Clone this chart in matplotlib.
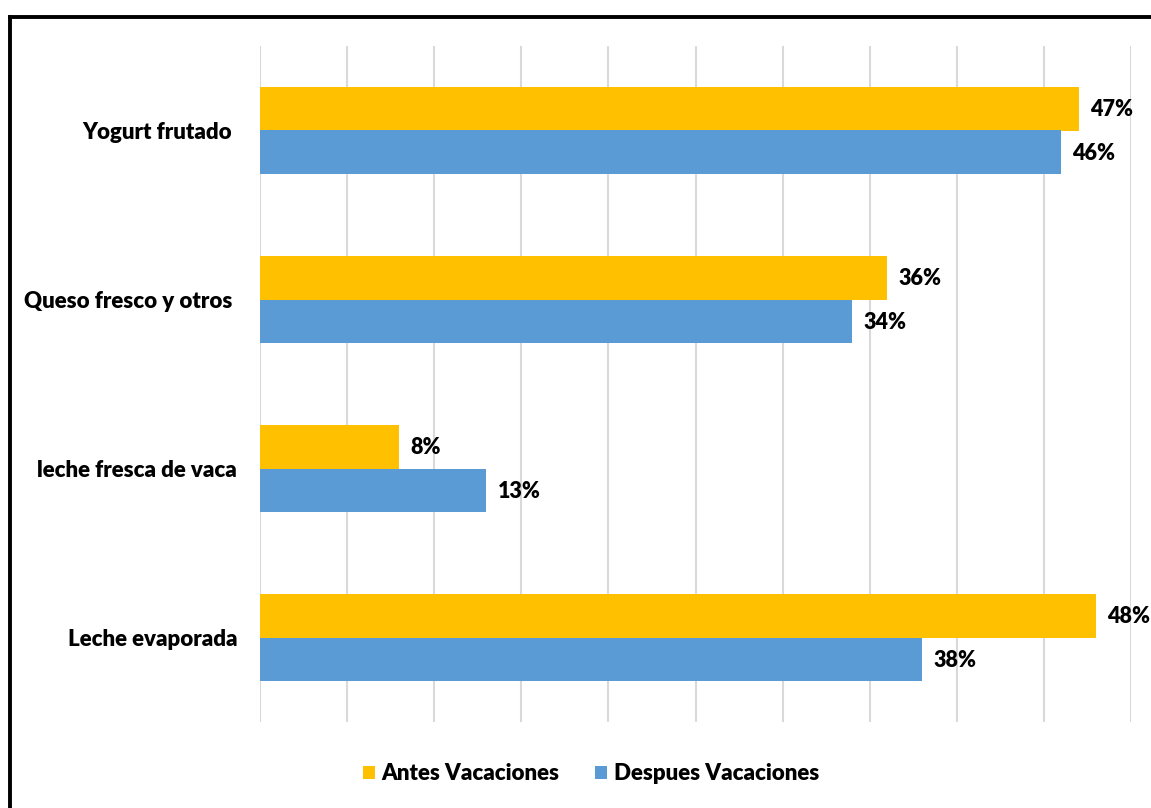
import matplotlib
matplotlib.use("Agg")
import matplotlib.pyplot as plt
from matplotlib.lines import Line2D
import numpy as np

plt.rcParams['font.family'] = ['Lato', 'DejaVu Sans']

categories = ["Leche evaporada", "leche fresca de vaca", "Queso fresco y otros ", "Yogurt frutado "]
antes = [48, 8, 36, 47]
despues = [38, 13, 34, 46]
series_names = ["Antes Vacaciones", "Despues Vacaciones"]
yellow = "#FFC000"
blue = "#5B9BD5"

fig = plt.figure(figsize=(11.51, 8.08), dpi=100)
ax = fig.add_axes([260 / 1151, 1 - 722 / 808, (1131 - 260) / 1151, (722 - 46) / 808])

y = np.arange(len(categories))
h = 0.26
b1 = ax.barh(y + h / 2, antes, height=h, color=yellow, label=series_names[0], zorder=3)
b2 = ax.barh(y - h / 2, despues, height=h, color=blue, label=series_names[1], zorder=3)

# value labels right of each bar
for bars, vals in [(b1, antes), (b2, despues)]:
    for rect, v in zip(bars, vals):
        ax.annotate(f"{v}%", (rect.get_width(), rect.get_y() + rect.get_height() / 2),
                    xytext=(8, -1), textcoords="offset points", va="center", ha="left",
                    fontsize=15.5, fontweight="heavy")

ax.set_xlim(0, 50)
ax.set_ylim(-0.5, 3.5)
ax.set_xticks(np.arange(0, 51, 5))
ax.set_xticklabels([])
ax.set_yticks(y)
ax.set_yticklabels(categories, fontsize=16, fontweight="heavy")
ax.tick_params(axis="both", length=0)
ax.tick_params(axis="y", pad=16.5)
ax.grid(axis="x", color="#d9d9d9", linewidth=1.5, zorder=0)
for s in ax.spines.values():
    s.set_visible(False)

fig.legend(handles=[b1, b2], loc="center", bbox_to_anchor=(591 / 1151, 1 - 774 / 808),
           ncol=2, frameon=False, prop={"size": 16, "weight": "heavy"},
           handlelength=0.55, handleheight=0.55, handletextpad=0.3, columnspacing=1.6)

# outer frame (clipped by the canvas on right and bottom)
fig.add_artist(Line2D([9.5 / 1151, 9.5 / 1151], [0, 1 - 16.5 / 808], transform=fig.transFigure,
                      color="black", linewidth=2.8, solid_capstyle="projecting"))
fig.add_artist(Line2D([9.5 / 1151, 1], [1 - 16.5 / 808, 1 - 16.5 / 808], transform=fig.transFigure,
                      color="black", linewidth=2.8, solid_capstyle="projecting"))

fig.savefig("out.png", dpi=100)
